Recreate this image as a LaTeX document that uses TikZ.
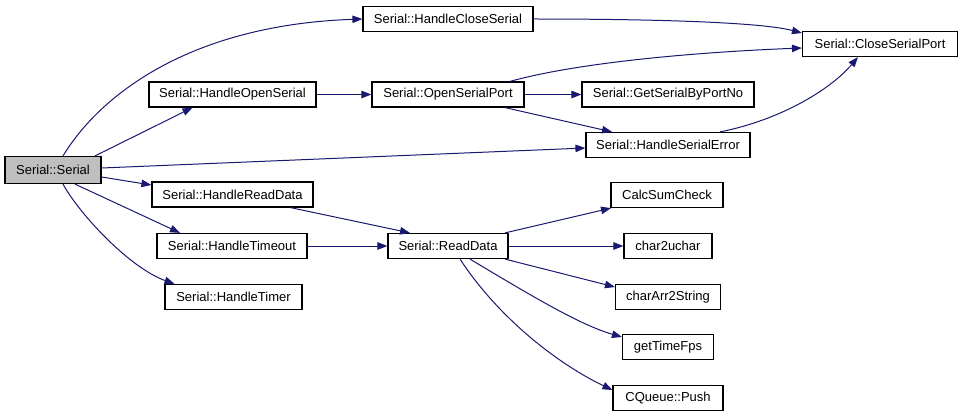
\documentclass[tikz,border=0pt]{standalone}
\usepackage{fontspec}
\setmainfont{Liberation Sans}
\usetikzlibrary{arrows.meta}
\definecolor{edgecol}{HTML}{191970}
\definecolor{rootfill}{HTML}{BFBFBF}
\tikzset{
  fn/.style={draw=black, line width=1.2pt, fill=white, minimum height=25pt, inner sep=0pt,
    font=\fontsize{13}{15}\selectfont, anchor=center},
  rootfn/.style={fn, fill=rootfill},
  call/.style={draw=edgecol, line width=1pt, -{Triangle[length=10pt,width=7.5pt]}, edgecol}
}
\begin{document}
\begin{tikzpicture}[x=1pt,y=-1pt]
\useasboundingbox (0,0) rectangle (961,417);
\fill[white] (0,0) rectangle (961,417);
% nodes
\node[rootfn, minimum width=96pt, minimum height=27pt] (ser) at (53,170) {Serial::Serial};
\node[fn, minimum width=170pt] (hcs) at (448,19) {Serial::HandleCloseSerial};
\node[fn, minimum width=167pt] (hos) at (232.5,94.5) {Serial::HandleOpenSerial};
\node[fn, minimum width=152pt] (osp) at (448,94.5) {Serial::OpenSerialPort};
\node[fn, minimum width=172pt] (gsp) at (668,94.5) {Serial::GetSerialByPortNo};
\node[fn, minimum width=155pt] (csp) at (880,44) {Serial::CloseSerialPort};
\node[fn, minimum width=164pt] (hse) at (668,145) {Serial::HandleSerialError};
\node[fn, minimum width=161pt] (hrd) at (232.5,194.5) {Serial::HandleReadData};
\node[fn, minimum width=150pt] (hto) at (232,246) {Serial::HandleTimeout};
\node[fn, minimum width=137pt] (htr) at (233.5,297) {Serial::HandleTimer};
\node[fn, minimum width=120pt] (rd) at (448,246) {Serial::ReadData};
\node[fn, minimum width=112pt] (csc) at (667,195) {CalcSumCheck};
\node[fn, minimum width=88pt] (c2u) at (668,246) {char2uchar};
\node[fn, minimum width=105pt] (ca2) at (668,297) {charArr2String};
\node[fn, minimum width=91pt] (gtf) at (668,347) {getTimeFps};
\node[fn, minimum width=110pt] (cqp) at (668,398) {CQueue::Push};
% edges
\draw[call] ([xshift=10pt]ser.north) .. controls (100,95) and (190,25) .. (hcs.west);
\draw[call] ([xshift=42pt]ser.north) -- ([xshift=-40pt]hos.south);
\draw[call] ([yshift=2pt]ser.east) -- ([yshift=-3pt]hse.west);
\draw[call] ([yshift=-7pt]ser.east) -- ([yshift=9.5pt]hrd.west);
\draw[call] ([xshift=22pt]ser.south) -- ([xshift=-52pt]hto.north);
\draw[call] ([xshift=10pt]ser.south) .. controls (80,215) and (130,268) .. ([xshift=-59pt]htr.north);
\draw[call] (hcs.east) .. controls (650,19) and (760,22) .. ([yshift=11pt]csp.west);
\draw[call] (hos.east) -- (osp.west);
\draw[call] ([xshift=62pt]osp.north) .. controls (580,62) and (700,52) .. ([yshift=-4pt]csp.west);
\draw[call] (osp.east) -- (gsp.west);
\draw[call] ([xshift=57pt]osp.south) -- ([xshift=-56pt]hse.north);
\draw[call] ([xshift=52pt]hse.north) .. controls (780,120) and (830,90) .. ([xshift=-22pt]csp.south);
\draw[call] ([xshift=58pt]hrd.south) -- ([xshift=-38pt]rd.north);
\draw[call] (hto.east) -- (rd.west);
\draw[call] ([xshift=57pt]rd.north) -- ([xshift=-56pt]csc.south);
\draw[call] (rd.east) -- (c2u.west);
\draw[call] ([xshift=57pt]rd.south) -- ([yshift=10pt]ca2.west);
\draw[call] ([xshift=22pt]rd.south) .. controls (530,295) and (580,325) .. ([yshift=10pt]gtf.west);
\draw[call] ([xshift=12pt]rd.south) .. controls (500,320) and (560,365) .. ([yshift=8pt]cqp.west);
\end{tikzpicture}
\end{document}
